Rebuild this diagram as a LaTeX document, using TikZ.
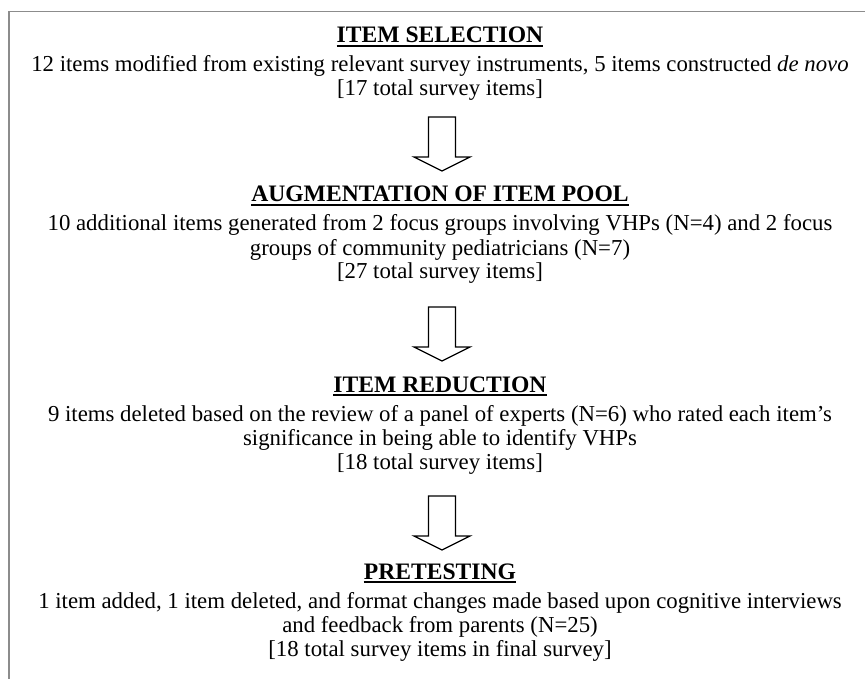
\documentclass[tikz,border=0pt]{standalone}
\usepackage{fontspec}
\setmainfont{Liberation Serif}
\usetikzlibrary{positioning}

\begin{document}
\begin{tikzpicture}[
    x=1pt, y=-1pt,
    hd/.style={anchor=base, inner sep=0pt, font=\fontsize{23.6}{24}\selectfont\bfseries},
    bd/.style={anchor=base, inner sep=0pt, font=\fontsize{22.8}{24}\selectfont},
    ul/.style={line width=1.6pt},
    blk/.style={draw=black, line width=1.2pt, line join=miter}
  ]
  \useasboundingbox (0,0) rectangle (865,679);
  % -- frame --
  \draw[line width=1.5pt, black!45] (9,679) -- (9,11.7) -- (865,11.7);
  % -- item selection --
  \node[hd] (h1) at (440,43) {ITEM SELECTION};
  \node[bd] (b11) at (440,72) {12 items modified from existing relevant survey instruments, 5 items constructed \textit{de novo}};
  \node[bd] (b12) at (440,96) {[17 total survey items]};
  % -- augmentation of item pool --
  \node[hd] (h2) at (440,202) {AUGMENTATION OF ITEM POOL};
  \node[bd] (b21) at (440,231) {10 additional items generated from 2 focus groups involving VHPs (N=4) and 2 focus};
  \node[bd] (b22) at (440,255) {groups of community pediatricians (N=7)};
  \node[bd] (b23) at (440,279) {[27 total survey items]};
  % -- item reduction --
  \node[hd] (h3) at (440,392) {ITEM REDUCTION};
  \node[bd] (b31) at (440,421) {9 items deleted based on the review of a panel of experts (N=6) who rated each item’s};
  \node[bd] (b32) at (440,445) {significance in being able to identify VHPs};
  \node[bd] (b33) at (440,469) {[18 total survey items]};
  % -- pretesting --
  \node[hd] (h4) at (440,579) {PRETESTING};
  \node[bd] (b41) at (440,608) {1 item added, 1 item deleted, and format changes made based upon cognitive interviews};
  \node[bd] (b42) at (440,632) {and feedback from parents (N=25)};
  \node[bd] (b43) at (440,656) {[18 total survey items in final survey]};
  % -- heading underlines --
  \foreach \h in {h1,h2,h3,h4}{
    \draw[ul] ([yshift=-3pt]\h.base west) -- ([yshift=-3pt]\h.base east);
  }
  % -- block arrows --
  \coordinate (a1) at (442,117);
  \coordinate (a2) at (442,307);
  \coordinate (a3) at (442,496);
  \foreach \a in {a1,a2,a3}{
    \draw[blk] (\a) ++(-13.5,0) -- ++(27,0) -- ++(0,40) -- ++(14.5,0)
      -- ++(-28,14) -- ++(-28,-14) -- ++(14.5,0) -- cycle;
  }
\end{tikzpicture}
\end{document}
